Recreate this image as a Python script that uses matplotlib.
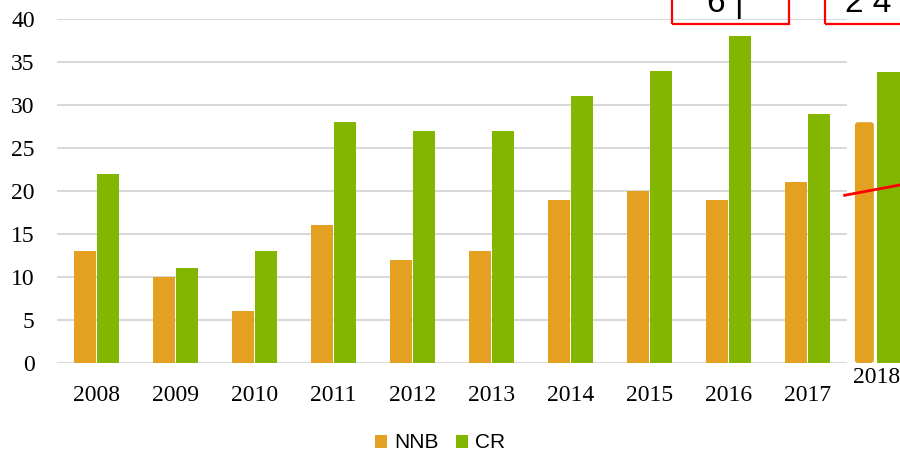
import numpy as np
import matplotlib.pyplot as plt
from matplotlib.patches import FancyBboxPatch, Rectangle

years = ["2008", "2009", "2010", "2011", "2012", "2013", "2014", "2015", "2016", "2017"]
nnb = [13, 10, 6, 16, 12, 13, 19, 20, 19, 21]
cr = [22, 11, 13, 28, 27, 27, 31, 34, 38, 29]
# 2018 column sits half outside the plot
year_extra = "2018"
nnb_extra = 28
cr_extra = 33.8
trend_x = [9.47, 10.17]
trend_y = [19.5, 20.7]

orange = "#E3A021"
green = "#82B600"

W, H = 900, 457
fig = plt.figure(figsize=(9, 4.57), dpi=100)
ax = fig.add_axes([57 / W, 1 - 363 / H, 790 / W, 344 / H])

x = np.arange(len(years))
w = 0.28
ax.bar(x - 0.145, nnb, w, color=orange, label="NNB", zorder=3)
ax.bar(x + 0.145, cr, w, color=green, label="CR", zorder=3)

ax.set_xlim(-0.5, 9.5)
ax.set_ylim(0, 40)
ax.set_yticks(range(0, 41, 5))
ax.set_xticks(x)
ax.set_xticklabels(years)
ax.grid(axis="y", color="#D9D9D9", linewidth=1.5, zorder=0)
for s in ax.spines.values():
    s.set_visible(False)
ax.tick_params(length=0, labelsize=17)
ax.tick_params(axis="y", pad=16)
ax.tick_params(axis="x", pad=16)
for lab in ax.get_xticklabels() + ax.get_yticklabels():
    lab.set_fontfamily("Liberation Serif")

# extra 2018 bars (rounded orange + cut green)
bar18 = FancyBboxPatch((9.60, 0), 0.24, nnb_extra,
                       boxstyle="round,pad=0,rounding_size=0.04",
                       mutation_aspect=8.7, facecolor=orange, edgecolor="none",
                       clip_on=False, zorder=3)
ax.add_patch(bar18)
ax.add_patch(Rectangle((9.88, 0), 0.5, cr_extra, facecolor=green,
                       edgecolor="none", clip_on=False, zorder=3))
ax.text(9.88, -1.7, year_extra, ha="center", va="center", fontsize=17,
        fontfamily="Liberation Serif", clip_on=False)
ax.plot(trend_x, trend_y, color="red", linewidth=2, clip_on=False, zorder=5)

# red boxes at the top, mostly cut off
for x0, x1 in [(672, 789), (825, 905)]:
    fig.add_artist(Rectangle((x0 / W, 1 - 24 / H), (x1 - x0) / W, 40 / H,
                             transform=fig.transFigure, fill=False,
                             edgecolor="red", linewidth=1.6))
fig.text(725 / W, 1 - 12 / H, "6 |", fontsize=24, fontfamily="Liberation Sans",
         ha="center", va="baseline")
fig.text(845 / W, 1 - 12 / H, "2 4", fontsize=24, fontfamily="Liberation Sans",
         ha="left", va="baseline")

leg = fig.legend(loc="center", bbox_to_anchor=(440 / W, 1 - 443 / H), ncol=2,
                 frameon=False, handlelength=0.6, handleheight=0.6,
                 handletextpad=0.35, columnspacing=0.8,
                 prop={"family": "Liberation Sans", "size": 15})

fig.savefig("out.png")
